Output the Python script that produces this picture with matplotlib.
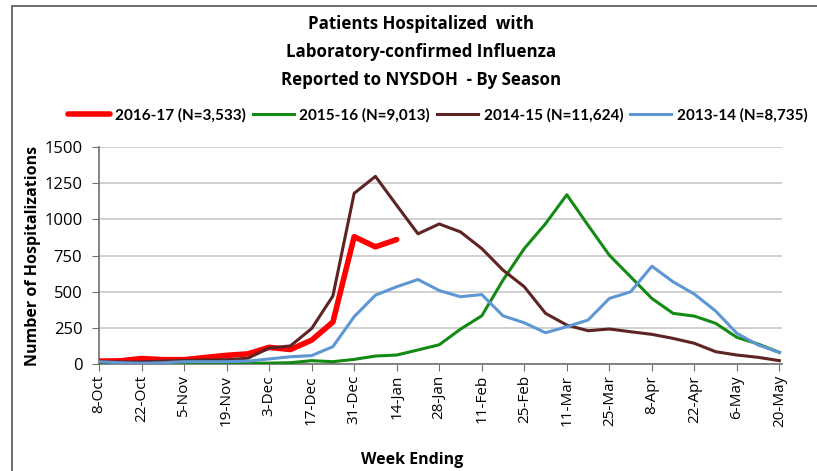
import matplotlib
matplotlib.use("Agg")
from matplotlib import pyplot as plt
from matplotlib.patches import Rectangle

weeks = ["8-Oct", "15-Oct", "22-Oct", "29-Oct", "5-Nov", "12-Nov", "19-Nov", "26-Nov",
         "3-Dec", "10-Dec", "17-Dec", "24-Dec", "31-Dec", "7-Jan", "14-Jan", "21-Jan",
         "28-Jan", "4-Feb", "11-Feb", "18-Feb", "25-Feb", "4-Mar", "11-Mar", "18-Mar",
         "25-Mar", "1-Apr", "8-Apr", "15-Apr", "22-Apr", "29-Apr", "6-May", "13-May",
         "20-May"]

s2016_17 = [20, 22, 38, 30, 30, 45, 60, 70, 115, 100, 165, 290, 880, 810, 860]

s2015_16 = [3, 3, 3, 3, 3, 4, 4, 5, 6, 9, 23, 16, 32, 55, 62, 97,
            133, 241, 333, 580, 798, 970, 1170, 959, 752, 603, 453, 350,
            331, 281, 184, 138, 80]

s2014_15 = [15, 15, 15, 20, 25, 28, 30, 40, 110, 125, 245, 470, 1180, 1297, 1097, 900,
            968, 913, 798, 649, 534, 350, 269, 230, 242, 223, 205, 177,
            143, 85, 62, 46, 23]

s2013_14 = [16, 9, 5, 9, 16, 16, 16, 20, 35, 50, 58, 120, 327, 476, 534, 584,
            508, 465, 480, 333, 285, 216, 258, 304, 453, 499, 676, 568,
            483, 366, 212, 131, 80]

labels = ["2016-17 (N=3,533)", "2015-16 (N=9,013)", "2014-15 (N=11,624)", "2013-14 (N=8,735)"]

fig = plt.figure(figsize=(8.17, 4.71), dpi=100)
fig.patches.append(Rectangle((12 / 817, -0.1), 1.2, (471 - 6) / 471 + 0.1,
                             transform=fig.transFigure, fill=False,
                             edgecolor="#555555", linewidth=1.2))

ax = fig.add_axes([99 / 817, 107 / 471, 683 / 817, 217 / 471])

x = list(range(len(weeks)))
ax.plot(x[:len(s2016_17)], s2016_17, color="#ff0000", lw=4.0, label=labels[0],
        solid_capstyle="round", zorder=3)
ax.plot(x, s2015_16, color="#138a13", lw=2.2, label=labels[1], zorder=3)
ax.plot(x, s2014_15, color="#5e2424", lw=2.2, label=labels[2], zorder=3)
ax.plot(x, s2013_14, color="#5f96d4", lw=2.2, label=labels[3], zorder=3)

ax.set_xlim(0, 32.12)
ax.set_ylim(0, 1500)
ax.set_yticks(range(0, 1501, 250))
ax.set_xticks(x[::2])
ax.set_xticklabels(weeks[::2], rotation=90, fontsize=11, family="Open Sans")
for t in ax.get_yticklabels():
    t.set_fontsize(12)
    t.set_family("Open Sans")
ax.grid(axis="y", color="#c8c8c8", lw=1.2)
ax.set_axisbelow(True)
for s in ["top", "right"]:
    ax.spines[s].set_visible(False)
for s in ["left", "bottom"]:
    ax.spines[s].set_color("#707070")
    ax.spines[s].set_linewidth(1.2)
ax.tick_params(axis="both", color="#707070", length=5, direction="out")
ax.tick_params(axis="x", pad=3)
ax.tick_params(axis="y", pad=7)

ax.set_ylabel("Number of Hospitalizations", fontsize=11.5, fontweight="bold", family="Open Sans")
ax.yaxis.set_label_coords((33 - 99) / 683, 0.5)
ax.set_xlabel("Week Ending", fontsize=11.5, fontweight="bold", family="Open Sans")
ax.xaxis.set_label_coords((412 - 99) / 683, -(460 - 364) / 217)
ax.xaxis.label.set_va("center")
ax.yaxis.label.set_va("center")

fig.text(421 / 817, 1 - 15 / 471, "Patients Hospitalized  with\nLaboratory-confirmed Influenza\nReported to NYSDOH  - By Season",
         ha="center", va="top", fontsize=12.2, fontweight="bold", family="Open Sans", linespacing=1.7)

ax.legend(loc="center", bbox_to_anchor=((438 - 99) / 683, (364 - 115) / 217), ncol=4, frameon=False,
          handlelength=2.7, columnspacing=0.45, handletextpad=0.35,
          prop={"weight": "bold", "size": 11, "family": "Lato"})

fig.savefig("out.png", dpi=100)
